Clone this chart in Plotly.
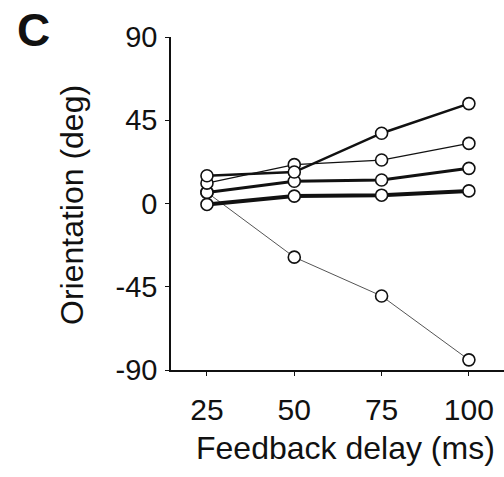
import plotly.graph_objects as go

delays = [25, 50, 75, 100]
series_a = [15, 17, 38, 54]
series_b = [11, 21, 23.5, 32.5]
series_c = [6, 12, 12.7, 19]
series_d = [-0.5, 4, 4.5, 6.8]
series_e = [6, -29, -50, -84.5]
y_ticks = [-90, -45, 0, 45, 90]
y_tick_labels = ["-90", "-45", "0", "45", "90"]
x_ticks = [25, 50, 75, 100]

FONT = "Liberation Sans, Arial, Helvetica, sans-serif"

styles = [
    (series_e, 1.0, "#555555"),
    (series_d, 4.0, "#111111"),
    (series_c, 3.0, "#111111"),
    (series_b, 1.3, "#111111"),
    (series_a, 2.5, "#111111"),
]

fig = go.Figure()
for vals, w, col in styles:
    fig.add_trace(go.Scatter(
        x=delays, y=vals, mode="lines",
        line=dict(color=col, width=w), showlegend=False, hoverinfo="skip"))
for vals, w, col in styles:
    fig.add_trace(go.Scatter(
        x=delays, y=vals, mode="markers",
        marker=dict(symbol="circle", size=12, color="white",
                    line=dict(color="#111111", width=1.6)),
        showlegend=False, cliponaxis=False))

fig.update_layout(
    width=504, height=477,
    margin=dict(l=171, r=0, t=37, b=107, autoexpand=False),
    paper_bgcolor="white", plot_bgcolor="white",
    font=dict(family=FONT, color="#111111"),
    xaxis=dict(range=[14.7, 110.05], tickvals=x_ticks, ticks="outside",
               ticklen=4, tickwidth=1.3, tickcolor="#111111",
               showline=True, linecolor="#111111", linewidth=1.5,
               showgrid=False, zeroline=False, automargin=False,
               tickfont=dict(size=30, family=FONT), ticklabelstandoff=8),
    yaxis=dict(range=[-90, 90], tickvals=y_ticks, ticktext=y_tick_labels,
               ticks="outside",
               ticklen=4, tickwidth=1.3, tickcolor="#111111",
               showline=True, linecolor="#111111", linewidth=1.5,
               showgrid=False, zeroline=False, automargin=False,
               tickfont=dict(size=29, family=FONT), ticklabelstandoff=2),
    annotations=[
        dict(text="Feedback delay (ms)", x=345, y=477 - 448, showarrow=False,
             font=dict(size=32)),
        dict(text="Orientation (deg)", x=72, y=477 - 205, textangle=-90,
             showarrow=False, font=dict(size=32)),
        dict(text="<b>C</b>", x=33, y=477 - 30, showarrow=False,
             font=dict(size=46)),
    ],
)
# convert annotation pixel positions to paper coords
pw, ph = 504 - 171, 477 - 37 - 107
new_ann = []
for a in fig.layout.annotations:
    a = a.to_plotly_json()
    a["x"] = (a["x"] - 171) / pw
    a["y"] = (a["y"] - 107) / ph
    a["xref"] = "paper"
    a["yref"] = "paper"
    a["xanchor"] = "center"
    a["yanchor"] = "middle"
    new_ann.append(a)
fig.layout.annotations = new_ann

fig.write_html("out.html", config={"displayModeBar": False},
               post_script="document.body.style.margin='0px';")
